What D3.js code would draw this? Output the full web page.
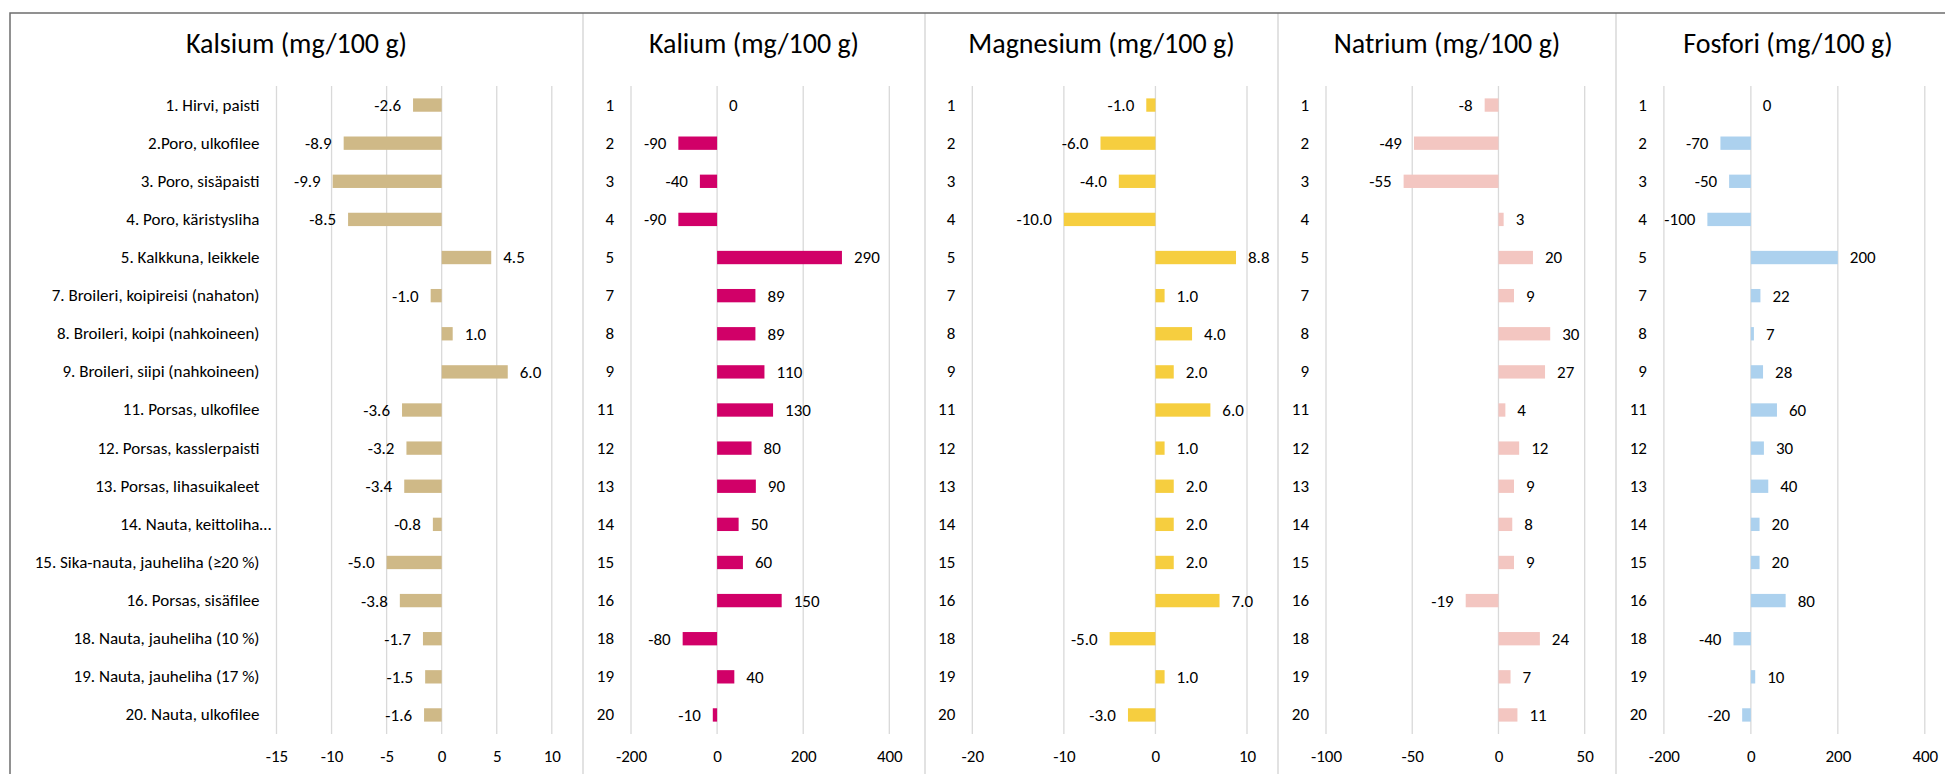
<!DOCTYPE html>
<html>
<head>
<meta charset="utf-8">
<script src="https://cdn.jsdelivr.net/npm/d3@7"></script>
<style>
  body { margin: 0; background: #fff; }
  svg text { font-family: Carlito, Lato, "Open Sans", sans-serif; fill: #000; }
  .title { font-size: 28px; }
  .lbl { font-size: 17px; }
  .axis text { font-size: 17px; }
</style>
</head>
<body>
<div id="chart"></div>
<script>
// category labels (long ones only on the first panel)
var categories = ["1. Hirvi, paisti", "2.Poro, ulkofilee", "3. Poro, sisäpaisti", "4. Poro, käristysliha",
  "5. Kalkkuna, leikkele", "7. Broileri, koipireisi (nahaton)", "8. Broileri, koipi (nahkoineen)",
  "9. Broileri, siipi (nahkoineen)", "11. Porsas, ulkofilee", "12. Porsas, kasslerpaisti",
  "13. Porsas, lihasuikaleet", "14. Nauta, keittoliha…", "15. Sika-nauta, jauheliha (≥20 %)",
  "16. Porsas, sisäfilee", "18. Nauta, jauheliha (10 %)", "19. Nauta, jauheliha (17 %)", "20. Nauta, ulkofilee"];
var shortLabels = ["1", "2", "3", "4", "5", "7", "8", "9", "11", "12", "13", "14", "15", "16", "18", "19", "20"];

// series values
var kalsium   = [-2.6, -8.9, -9.9, -8.5, 4.5, -1.0, 1.0, 6.0, -3.6, -3.2, -3.4, -0.8, -5.0, -3.8, -1.7, -1.5, -1.6];
var kalium    = [0, -90, -40, -90, 290, 89, 89, 110, 130, 80, 90, 50, 60, 150, -80, 40, -10];
var magnesium = [-1.0, -6.0, -4.0, -10.0, 8.8, 1.0, 4.0, 2.0, 6.0, 1.0, 2.0, 2.0, 2.0, 7.0, -5.0, 1.0, -3.0];
var natrium   = [-8, -49, -55, 3, 20, 9, 30, 27, 4, 12, 9, 8, 9, -19, 24, 7, 11];
var fosfori   = [0, -70, -50, -100, 200, 22, 7, 28, 60, 30, 40, 20, 20, 80, -40, 10, -20];

// axis tick labels
var kalsiumTicks   = [-15, -10, -5, 0, 5, 10];
var kaliumTicks    = [-200, 0, 200, 400];
var magnesiumTicks = [-20, -10, 0, 10];
var natriumTicks   = [-100, -50, 0, 50];
var fosforiTicks   = [-200, 0, 200, 400];

var titles = ["Kalsium (mg/100 g)", "Kalium (mg/100 g)", "Magnesium (mg/100 g)", "Natrium (mg/100 g)", "Fosfori (mg/100 g)"];

var W = 1945, H = 774;
var plotTop = 86, plotBottom = 734;

// plain hyphen for negatives, like the original
var loc = d3.formatLocale({decimal: ".", thousands: ",", grouping: [3], currency: ["", ""], minus: "-"});
var f1 = loc.format(".1f"), f0 = loc.format("d");

// panel layout
var panels = [
  {title: titles[0], values: kalsium,   ticks: kalsiumTicks,   labels: categories,  fmt: f1, color: "#CFB987", left: 10,   right: 583,  x0: 276.5,  x1: 551.8},
  {title: titles[1], values: kalium,    ticks: kaliumTicks,    labels: shortLabels, fmt: f0, color: "#D10068", left: 583,  right: 925,  x0: 631,    x1: 889.3},
  {title: titles[2], values: magnesium, ticks: magnesiumTicks, labels: shortLabels, fmt: f1, color: "#F6CE3F", left: 925,  right: 1278, x0: 972.3,  x1: 1247},
  {title: titles[3], values: natrium,   ticks: natriumTicks,   labels: shortLabels, fmt: f0, color: "#F3C6C1", left: 1278, right: 1616, x0: 1326,   x1: 1584.7},
  {title: titles[4], values: fosfori,   ticks: fosforiTicks,   labels: shortLabels, fmt: f0, color: "#ACD1EE", left: 1616, right: 1960, x0: 1663.9, x1: 1924.8}
];

var svg = d3.select("#chart").append("svg")
  .attr("width", W).attr("height", H);

panels.forEach(function(p) {
  var g = svg.append("g");

  var x = d3.scaleLinear()
    .domain([p.ticks[0], p.ticks[p.ticks.length - 1]])
    .range([p.x0, p.x1]);
  var y = d3.scaleBand()
    .domain(p.labels)
    .range([plotTop, plotBottom]);
  var barH = y.bandwidth() * 0.35;

  // title
  g.append("text")
    .attr("class", "title")
    .attr("x", (p.left + p.right) / 2)
    .attr("y", 53)
    .attr("text-anchor", "middle")
    .text(p.title);

  // gridlines
  g.selectAll(".grid")
    .data(p.ticks)
    .enter().append("line")
    .attr("x1", function(d) { return x(d); })
    .attr("x2", function(d) { return x(d); })
    .attr("y1", plotTop)
    .attr("y2", plotBottom)
    .attr("stroke", "#D9D9D9")
    .attr("stroke-width", 1.3);

  // x axis
  var xAxis = g.append("g")
    .attr("class", "axis")
    .attr("transform", "translate(0," + plotBottom + ")")
    .call(d3.axisBottom(x).tickValues(p.ticks).tickSize(0).tickPadding(16).tickFormat(f0));
  xAxis.select(".domain").remove();

  // category axis
  var yAxis = g.append("g")
    .attr("class", "axis")
    .attr("transform", "translate(" + p.x0 + ",0)")
    .call(d3.axisLeft(y).tickSize(0).tickPadding(17));
  yAxis.select(".domain").remove();
  // truncated label: keep the text aligned, let the ellipsis run over
  yAxis.selectAll(".tick text").each(function(d) {
    if (d.slice(-1) === "…") {
      var t = d3.select(this);
      t.text(d.slice(0, -1));
      d3.select(this.parentNode).append("text")
        .attr("x", t.attr("x")).attr("dy", t.attr("dy"))
        .attr("fill", "#000").attr("text-anchor", "start")
        .text("…");
    }
  });

  // bars
  g.selectAll(".bar")
    .data(p.values)
    .enter().append("rect")
    .attr("x", function(d) { return x(Math.min(0, d)); })
    .attr("y", function(d, i) { return y(p.labels[i]) + (y.bandwidth() - barH) / 2; })
    .attr("width", function(d) { return Math.abs(x(d) - x(0)); })
    .attr("height", barH)
    .attr("fill", p.color);

  // data labels
  g.selectAll(".lbl")
    .data(p.values)
    .enter().append("text")
    .attr("class", "lbl")
    .attr("x", function(d) { return d < 0 ? x(d) - 12 : x(d) + 12; })
    .attr("y", function(d, i) { return y(p.labels[i]) + y.bandwidth() / 2; })
    .attr("dy", "0.35em")
    .attr("text-anchor", function(d) { return d < 0 ? "end" : "start"; })
    .text(function(d) { return p.fmt(d); });

  // panel divider
  if (p.left > 10) {
    svg.append("line")
      .attr("x1", p.left).attr("x2", p.left)
      .attr("y1", 13).attr("y2", H)
      .attr("stroke", "#D9D9D9")
      .attr("stroke-width", 1.5);
  }
});

// outer frame (top and left)
svg.append("path")
  .attr("d", "M10," + H + "V13H" + W)
  .attr("fill", "none")
  .attr("stroke", "#6E6E6E")
  .attr("stroke-width", 1.5);
</script>
</body>
</html>
